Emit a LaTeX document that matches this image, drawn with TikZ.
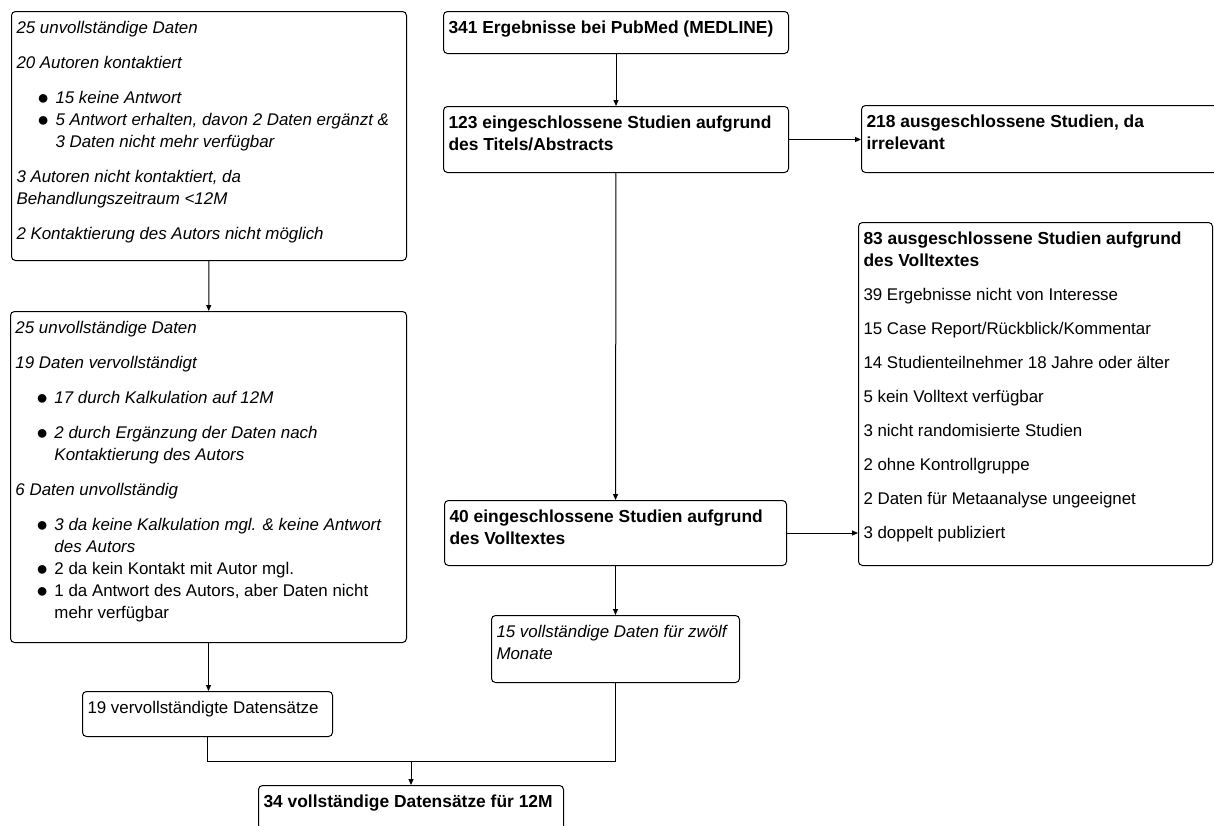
\documentclass[tikz,border=0pt]{standalone}
\usepackage{fontspec}
\setmainfont{Liberation Sans}
\usetikzlibrary{arrows.meta, positioning}

\newcommand{\boxtext}[3]{\parbox[c][#2pt][t]{\dimexpr#1pt-10pt}{\raggedright\rule{0pt}{22pt}#3}}
\newcommand{\bul}{\hspace*{21pt}\makebox[18pt][l]{\raisebox{-1pt}{\scalebox{1.3}{$\bullet$}}}}
\newcommand{\cont}{\hspace*{39pt}}
\newcommand{\heavy}{\fontsize{17.4}{22}\selectfont\bfseries}

\begin{document}
\begin{tikzpicture}[
      x=1pt, y=-1pt, line width=1pt, >={Triangle[length=6pt,width=5pt]},
      box/.style={draw, rounded corners=4pt, anchor=north west,
        inner xsep=5pt, inner ysep=0pt, font=\fontsize{16.9}{22}\selectfont},
      ]
  \useasboundingbox (0,0) rectangle (1214,825);
  \clip (0,0) rectangle (1214,825);

  % left column
  \node[box] (contact) at (11,11) {\boxtext{395}{249}{\itshape
      25 unvollständige Daten\\[13pt]
      20 Autoren kontaktiert\\[13pt]
      \bul 15 keine Antwort\\
      \bul 5 Antwort erhalten, davon 2 Daten ergänzt \&\\
      \cont 3 Daten nicht mehr verfügbar\\[13pt]
      3 Autoren nicht kontaktiert, da\\
      Behandlungszeitraum <12M\\[13pt]
      2 Kontaktierung des Autors nicht möglich}};
  \node[box] (complete) at (10,311) {\boxtext{396}{331}{\itshape
      25 unvollständige Daten\\[13pt]
      19 Daten vervollständigt\\[13pt]
      \bul 17 durch Kalkulation auf 12M\\[13pt]
      \bul 2 durch Ergänzung der Daten nach\\
      \cont Kontaktierung des Autors\\[13pt]
      6 Daten unvollständig\\[13pt]
      \bul 3 da keine Kalkulation mgl. \& keine Antwort\\
      \cont des Autors\\
      \upshape\bul 2 da kein Kontakt mit Autor mgl.\\
      \bul 1 da Antwort des Autors, aber Daten nicht\\
      \cont mehr verfügbar}};
  \node[box] (filled) at (82,691) {\boxtext{250}{45}{19 vervollständigte Datensätze}};
  \node[box] (final) at (258,785) {\boxtext{305}{60}{\heavy 34 vollständige Datensätze für 12M}};

  % middle column
  \node[box] (pubmed) at (443,11) {\boxtext{345}{42}{\heavy 341 Ergebnisse bei PubMed (MEDLINE)}};
  \node[box] (title) at (443,106) {\boxtext{345}{66}{\heavy
      123 eingeschlossene Studien aufgrund\\des Titels/Abstracts}};
  \node[box] (fulltext) at (444,500) {\boxtext{342}{65}{\heavy
      40 eingeschlossene Studien aufgrund\\des Volltextes}};
  \node[box] (fifteen) at (491,615) {\boxtext{248}{67}{\itshape
      15 vollständige Daten für zwölf\\Monate}};

  % right column
  \node[box] (exclTitle) at (861,105) {\boxtext{360}{67}{\heavy
      218 ausgeschlossene Studien, da\\irrelevant}};
  \node[box] (exclFull) at (858,222) {\boxtext{354}{343}{{\heavy
      83 ausgeschlossene Studien aufgrund\\des Volltextes}\\[12pt]
      39 Ergebnisse nicht von Interesse\\[12pt]
      15 Case Report/Rückblick/Kommentar\\[12pt]
      14 Studienteilnehmer 18 Jahre oder älter\\[12pt]
      5 kein Volltext verfügbar\\[12pt]
      3 nicht randomisierte Studien\\[12pt]
      2 ohne Kontrollgruppe\\[12pt]
      2 Daten für Metaanalyse ungeeignet\\[12pt]
      3 doppelt publiziert}};

  \path (final.north) ++(0,-24) coordinate (join);

  \draw[->] (pubmed) -- (title);
  \draw[->] (title.east) -- (title.east -| exclTitle.west);
  \draw[->] (title) -- (fulltext);
  \draw[->] (fulltext.east) -- (fulltext.east -| exclFull.west);
  \draw[->] (fulltext) -- (fifteen);
  \draw[->] (contact) -- (complete);
  \draw[->] (complete.south) -- (complete.south |- filled.north);
  \draw (filled) |- (join) -| (fifteen);
  \draw[->] (join) -- (final);
\end{tikzpicture}
\end{document}
